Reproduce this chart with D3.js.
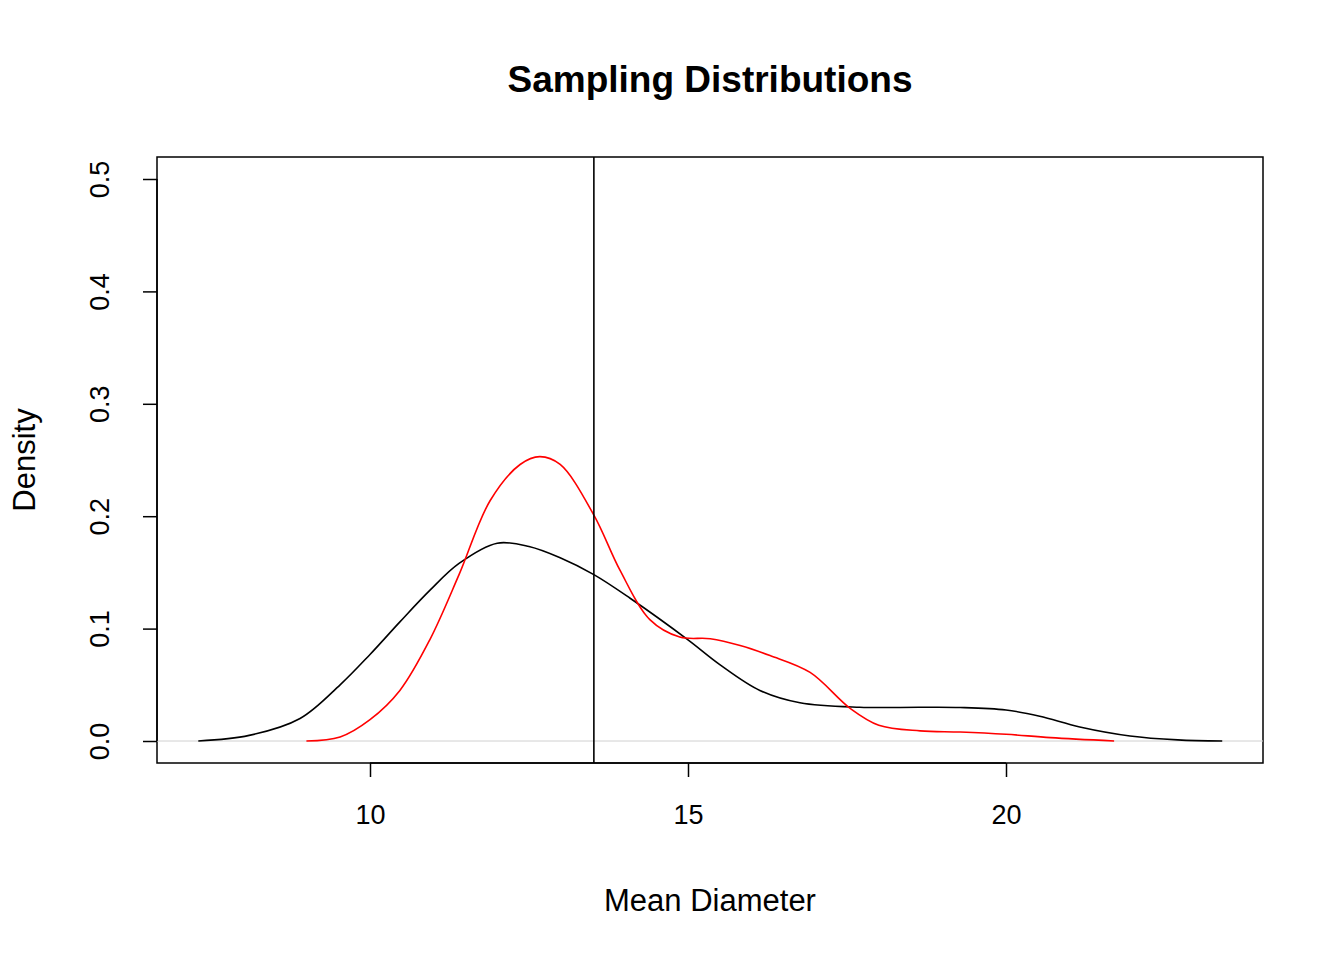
<!DOCTYPE html>
<html><head><meta charset="utf-8">
<script src="https://cdn.jsdelivr.net/npm/d3@7"></script>
<style>body{margin:0;background:#fff}</style></head>
<body><svg id="c" width="1344" height="960"></svg>
<script>
const xTicks=[10,15,20];
const yTicks=[0,0.1,0.2,0.3,0.4,0.5];
const meanLine=13.52;
const blackX=[7.3,8.1,8.9,9.53,10,10.47,10.94,11.4,12,12.5,12.99,13.52,14.09,15,15.5,16.13,16.76,17.7,18.65,19.28,20,20.53,21.16,21.95,22.7,23.4];
const blackY=[0,0.005,0.02,0.05,0.077,0.106,0.134,0.158,0.176,0.173,0.163,0.148,0.127,0.09,0.068,0.045,0.034,0.030,0.030,0.0298,0.0276,0.022,0.0125,0.0045,0.001,0];
const redX=[9.0,9.53,10,10.47,10.94,11.4,11.89,12.36,12.67,12.99,13.52,13.93,14.4,14.87,15.35,15.82,16.29,16.92,17.55,18.0,18.65,19.28,20,20.7,21.7];
const redY=[0,0.0036,0.019,0.045,0.09,0.148,0.214,0.246,0.253,0.246,0.201,0.152,0.108,0.0925,0.091,0.085,0.076,0.061,0.029,0.014,0.009,0.008,0.006,0.003,0];

const svg=d3.select("#c");
const L=157,R=1263,T=157,B=763;
const x=d3.scaleLinear().domain([10,20]).range([370,1006]);
const y=d3.scaleLinear().domain([0,0.5]).range([741,179]);
const font="Liberation Sans, Arial, sans-serif";
svg.append("rect").attr("x",L).attr("y",T).attr("width",R-L).attr("height",B-T).attr("fill","none").attr("stroke","#000").attr("stroke-width",1.5);
svg.append("line").attr("x1",L).attr("x2",R).attr("y1",y(0)).attr("y2",y(0)).attr("stroke","#d0d0d0").attr("stroke-width",1);
const line=d3.line().x(d=>x(d[0])).y(d=>y(d[1])).curve(d3.curveCatmullRom.alpha(0.5));
svg.append("path").attr("d",line(blackX.map((v,i)=>[v,blackY[i]]))).attr("fill","none").attr("stroke","#000").attr("stroke-width",1.6);
svg.append("path").attr("d",line(redX.map((v,i)=>[v,redY[i]]))).attr("fill","none").attr("stroke","#ff0000").attr("stroke-width",1.6);
svg.append("line").attr("x1",x(meanLine)).attr("x2",x(meanLine)).attr("y1",T).attr("y2",B).attr("stroke","#000").attr("stroke-width",1.6);
const xa=svg.append("g").attr("transform",`translate(0,${B})`).call(d3.axisBottom(x).tickValues(xTicks).tickSize(14).tickPadding(28).tickFormat(d3.format("d")));
xa.select(".domain").attr("d",`M${x(10)},0H${x(20)}`).attr("stroke-width",1.5);
xa.selectAll("line").attr("stroke-width",1.5);
xa.selectAll("text").attr("font-size",27).attr("font-family",font);
const ya=svg.append("g").attr("transform",`translate(${L},0)`).call(d3.axisLeft(y).tickValues(yTicks).tickSize(14).tickFormat(d3.format(".1f")));
ya.select(".domain").attr("d",`M0,${y(0)}V${y(0.5)}`).attr("stroke-width",1.5);
ya.selectAll("line").attr("stroke-width",1.5);
ya.selectAll("text").attr("font-size",27).attr("font-family",font).attr("text-anchor","middle").attr("dy",0).attr("x",0).attr("transform","translate(-57,0) rotate(-90)").attr("dominant-baseline","central");
svg.append("text").attr("x",710).attr("y",92).attr("text-anchor","middle").attr("font-size",37).attr("font-weight","bold").attr("font-family",font).text("Sampling Distributions");
svg.append("text").attr("x",710).attr("y",911).attr("text-anchor","middle").attr("font-size",31).attr("font-family",font).text("Mean Diameter");
svg.append("text").attr("transform","translate(35,460) rotate(-90)").attr("text-anchor","middle").attr("font-size",31).attr("font-family",font).text("Density");
</script></body></html>
